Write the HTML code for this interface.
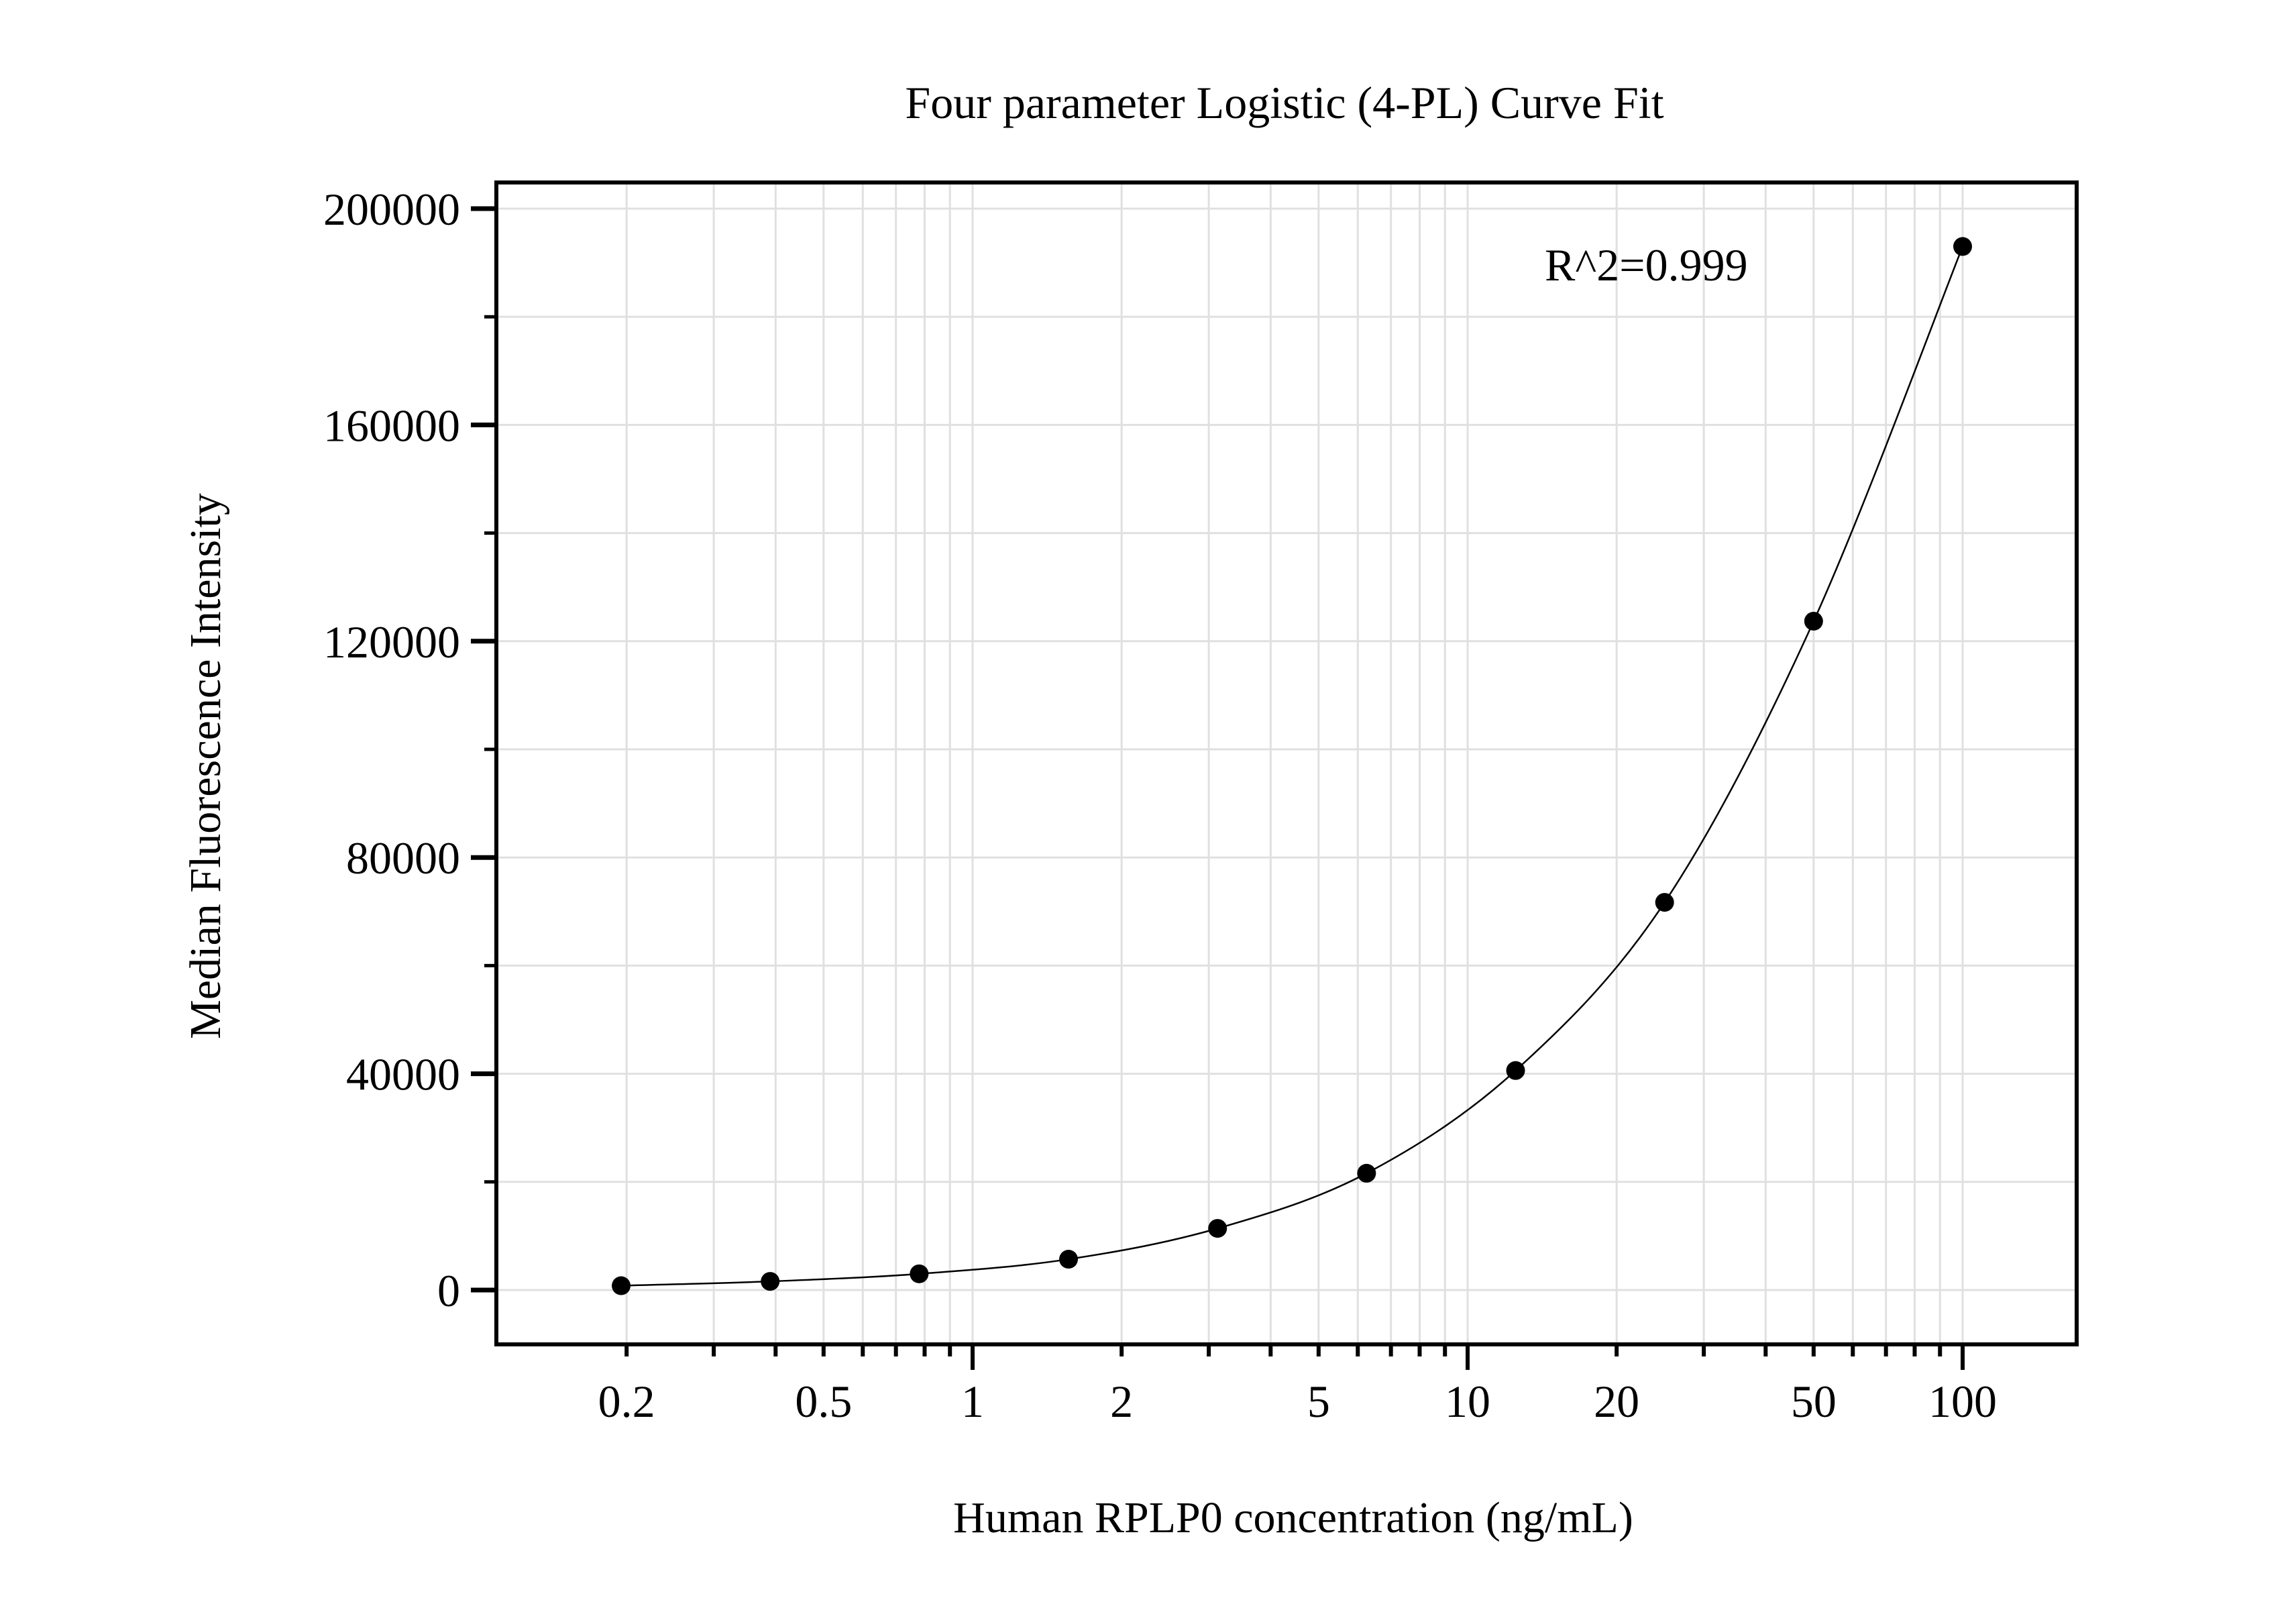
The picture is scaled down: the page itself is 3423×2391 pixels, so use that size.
<!DOCTYPE html>
<html><head><meta charset="utf-8"><style>
html,body{margin:0;padding:0;background:#fff}
svg{display:block}
text{font-family:"Liberation Serif",serif;fill:#000}
</style></head><body>
<svg id="chart" width="3423" height="2391" xmlns="http://www.w3.org/2000/svg">
<text x="1915" y="176" font-size="68" text-anchor="middle">Four parameter Logistic (4-PL) Curve Fit</text>
<g id="grid"></g>
<g id="axes"></g>
<path id="curve" fill="none" stroke="#000" stroke-width="2.5"/>
<g id="points"></g>
<text x="2303" y="418" font-size="68">R^2=0.999</text>
<text x="1928" y="2284" font-size="66" text-anchor="middle">Human RPLP0 concentration (ng/mL)</text>
<text transform="translate(328,1142) rotate(-90)" font-size="66" text-anchor="middle">Median Fluorescence Intensity</text>
</svg>
<script>
const concentrations = [0.195, 0.39, 0.78, 1.5625, 3.125, 6.25, 12.5, 25, 50, 100];
const intensities = [800, 1600, 3000, 5700, 11400, 21600, 40600, 71700, 123700, 193000];
const xTickLabels = ["0.2","0.5","1","2","5","10","20","50","100"];
const xTickValues = [0.2,0.5,1,2,5,10,20,50,100];
const yTickValues = [0,40000,80000,120000,160000,200000];
const yTickLabels = ["0","40000","80000","120000","160000","200000"];

const L=740,R=3096,T=272,B=2004;
const X1=1450,DEC=738;
const Y0=1923,Y200=311;
const xs=v=>X1+Math.log10(v)*DEC;
const ys=v=>Y0+(Y200-Y0)*v/200000;
const NS="http://www.w3.org/2000/svg";
function mk(tag,attrs,parent){const e=document.createElementNS(NS,tag);for(const k in attrs)e.setAttribute(k,attrs[k]);parent.appendChild(e);return e;}
const grid=document.getElementById('grid'),axes=document.getElementById('axes');

const minor=[];
for(let d=-1;d<=2;d++)for(let m=1;m<=9;m++){const v=m*Math.pow(10,d);if(v>=0.2-1e-9&&v<=100+1e-9)minor.push(v);}
minor.forEach(v=>{const x=xs(v);
 const g=mk('line',{x1:x,x2:x,y1:T,y2:B,stroke:'#e0e0e0','stroke-width':3},grid);
 
 const major=Math.abs(Math.log10(v)-Math.round(Math.log10(v)))<1e-9;
 const t=mk('line',{x1:x,x2:x,y1:B,y2:B+(major?38:18),stroke:'#000','stroke-width':6},axes);
 
});
for(let v=0;v<=200000;v+=20000){const y=ys(v);
 const g=mk('line',{x1:L,x2:R,y1:y,y2:y,stroke:'#e0e0e0','stroke-width':3},grid);
 
 const major=v%40000===0;
 const t=mk('line',{x1:L-(major?38:18),x2:L,y1:y,y2:y,stroke:'#000','stroke-width':major?7:5},axes);
 
}
xTickValues.forEach((v,i)=>{const t=mk('text',{x:xs(v),y:2112,'font-size':68,'text-anchor':'middle'},axes);t.textContent=xTickLabels[i];
 });
yTickValues.forEach((v,i)=>{const t=mk('text',{x:686,y:ys(v)+24,'font-size':68,'text-anchor':'end'},axes);t.textContent=yTickLabels[i];
 });
const frame=mk('rect',{x:L,y:T,width:R-L,height:B-T,fill:'none',stroke:'#000','stroke-width':6},axes);


const P=concentrations.map((c,i)=>[xs(c),ys(intensities[i])]);
let d='M'+P[0][0]+','+P[0][1];
for(let i=0;i<P.length-1;i++){const p0=P[Math.max(0,i-1)],p1=P[i],p2=P[i+1],p3=P[Math.min(P.length-1,i+2)];
 const c1=[p1[0]+(p2[0]-p0[0])/6,p1[1]+(p2[1]-p0[1])/6],c2=[p2[0]-(p3[0]-p1[0])/6,p2[1]-(p3[1]-p1[1])/6];
 d+=' C'+c1[0]+','+c1[1]+' '+c2[0]+','+c2[1]+' '+p2[0]+','+p2[1];}
document.getElementById('curve').setAttribute('d',d);
const pts=document.getElementById('points');
P.forEach(p=>{const c=mk('ellipse',{cx:p[0],cy:p[1],rx:14,ry:14,fill:'#000'},pts);
 });
</script>
</body></html>
